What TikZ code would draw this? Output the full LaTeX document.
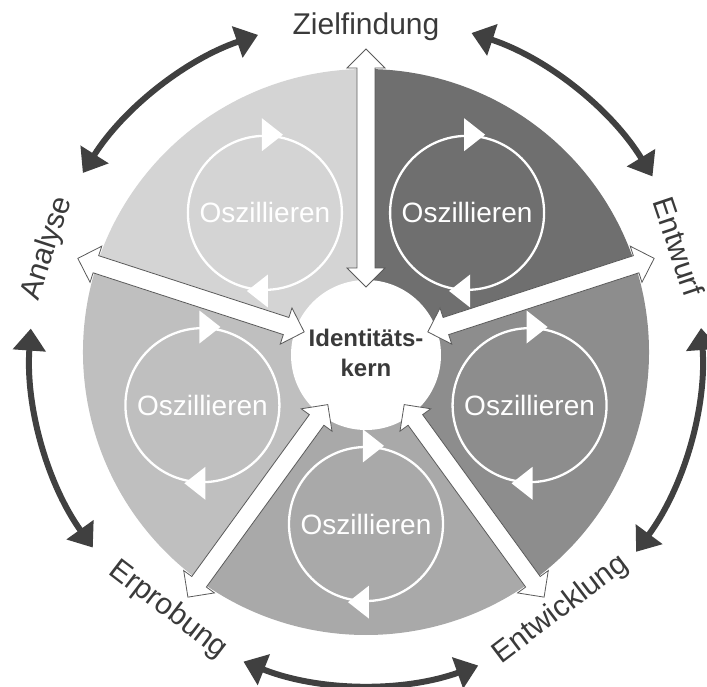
\documentclass[tikz,border=0pt]{standalone}
\usepackage{fontspec}
\setmainfont{Liberation Sans}
\usetikzlibrary{arrows.meta}
\definecolor{secA}{HTML}{D4D4D4}
\definecolor{secB}{HTML}{6F6F6F}
\definecolor{secC}{HTML}{8D8D8D}
\definecolor{secD}{HTML}{A9A9A9}
\definecolor{secE}{HTML}{BFBFBF}
\definecolor{txtdark}{HTML}{3A3A3A}
\definecolor{arcdark}{HTML}{404040}
\definecolor{arrowedge}{HTML}{5A5A5A}
\begin{document}
\begin{tikzpicture}[x=1pt,y=1pt,
  whitearrow/.style={fill=white,draw=arrowedge,line width=0.8pt,line join=miter},
  osccircle/.style={circle,draw=white,line width=2.3pt,minimum size=154pt,inner sep=0pt,
    text=white,font=\fontsize{28}{32}\selectfont},
  osctip/.style={fill=white,draw=none},
  phaselabel/.style={text=txtdark,font=\fontsize{30}{34}\selectfont,inner sep=0pt},
  cycarc/.style={draw=arcdark,line width=6pt,
    {Triangle[length=22pt,width=32pt]}-{Triangle[length=22pt,width=32pt]}},
  corecircle/.style={circle,fill=white,minimum size=150pt,inner sep=0pt},
  corelabel/.style={text=txtdark,font=\bfseries\fontsize{24}{30}\selectfont,align=center,inner sep=0pt}
]
\useasboundingbox (-366,-334) rectangle (341,352);
% sectors
\fill[secA] (0,0) -- (90:283) arc[start angle=90,end angle=162,radius=283] -- cycle;
\fill[secB] (0,0) -- (18:283) arc[start angle=18,end angle=90,radius=283] -- cycle;
\fill[secC] (0,0) -- (-54:283) arc[start angle=-54,end angle=18,radius=283] -- cycle;
\fill[secD] (0,0) -- (-126:283) arc[start angle=-126,end angle=-54,radius=283] -- cycle;
\fill[secE] (0,0) -- (162:283) arc[start angle=162,end angle=234,radius=283] -- cycle;
% oscillation circles
\foreach \a/\n in {126/oa, 54/ob, -18/oc, -90/od, 198/oe} {
  \node[osccircle] (\n) at (\a:172) {Oszillieren};
  \fill[osctip] (\n.north) ++(-3,16.5) -- ++(21,-16.5) -- ++(-21,-16.5) -- cycle;
  \fill[osctip] (\n.south) ++(3,16.5) -- ++(-21,-16.5) -- ++(21,-16.5) -- cycle;
}
% core
\node[corecircle] (core) at (0,-3) {};
% white double arrows
\foreach \a in {90,18,-54,-126,162} {
  \draw[whitearrow,rotate=\a] (65,0) -- (84,19) -- (84,9) -- (284,9) -- (284,19)
    -- (303,0) -- (284,-19) -- (284,-9) -- (84,-9) -- (84,-19) -- cycle;
}
\node[corelabel] (coretext) at (0,-1) {Identitäts-\\kern};
% phase labels
\node[phaselabel] (ziel) at (90:325) {Zielfindung};
\node[phaselabel,rotate=-71.4] (entwurf) at (18.6:330) {Entwurf};
\node[phaselabel,rotate=37.1] (entw) at (-52.9:323) {Entwicklung};
\node[phaselabel,rotate=-37.5] (erpr) at (-127.5:325) {Erprobung};
\node[phaselabel,rotate=72] (analyse) at (162:335) {Analyse};
% cycle arcs
\coordinate (a1s) at (108.8:335); \coordinate (a2s) at (31.5:336);
\coordinate (a3s) at (-36.5:336); \coordinate (a4s) at (-111.6:333);
\coordinate (a5s) at (176:336);
\draw[cycarc] (a1s) arc[start angle=108.8,end angle=147.7,radius=335];
\draw[cycarc] (a2s) arc[start angle=31.5,end angle=71.7,radius=336];
\draw[cycarc] (a3s) arc[start angle=-36.5,end angle=4.1,radius=336];
\draw[cycarc] (a4s) arc[start angle=-111.6,end angle=-70.3,radius=333];
\draw[cycarc] (a5s) arc[start angle=176,end angle=215.6,radius=336];
\end{tikzpicture}
\end{document}
